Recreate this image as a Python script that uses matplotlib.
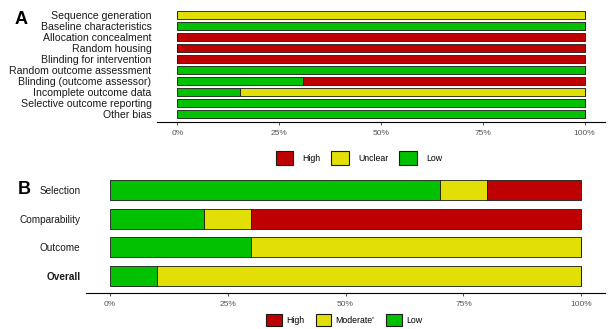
import matplotlib.pyplot as plt
from matplotlib.patches import Patch
import numpy as np

plt.rcParams['font.family'] = ['Liberation Sans', 'DejaVu Sans']

# colours for judgements
col_low = '#02C100'
col_unclear = '#E2DF07'
col_high = '#BF0000'

# Panel A : risk of bias items (percent of studies)
items_a = ['Sequence generation', 'Baseline characteristics', 'Allocation concealment',
           'Random housing', 'Blinding for intervention', 'Random outcome assessment',
           'Blinding (outcome assessor)', 'Incomplete outcome data',
           'Selective outcome reporting', 'Other bias']
low_a = [0, 100, 0, 0, 0, 100, 30.8, 15.4, 100, 100]
unclear_a = [100, 0, 0, 0, 0, 0, 0, 84.6, 0, 0]
high_a = [0, 0, 100, 100, 100, 0, 69.2, 0, 0, 0]

# Panel B : domains
items_b = ['Selection', 'Comparability', 'Outcome', 'Overall']
low_b = [70, 20, 30, 10]
moderate_b = [10, 10, 70, 90]
high_b = [20, 70, 0, 0]

ticks = [0, 25, 50, 75, 100]
tick_labels = ['0%', '25%', '50%', '75%', '100%']

W, H = 609, 329
fig = plt.figure(figsize=(W / 100, H / 100), dpi=100)


def px_axes(x0, y0, x1, y1):
    return fig.add_axes([x0 / W, 1 - y1 / H, (x1 - x0) / W, (y1 - y0) / H])


def stacked(ax, labels, series, colors, height, fs):
    y = np.arange(len(labels))
    left = np.zeros(len(labels))
    for vals, c in zip(series, colors):
        vals = np.array(vals, dtype=float)
        ax.barh(y, vals, left=left, height=height, color=c,
                edgecolor='#1a1a1a', linewidth=0.6)
        left += vals
    ax.set_yticks(y)
    ax.set_yticklabels(labels)
    ax.set_xticks(ticks)
    ax.set_xticklabels(tick_labels)
    ax.set_xlim(-5, 105)
    for s in ['top', 'right', 'left']:
        ax.spines[s].set_visible(False)
    ax.spines['bottom'].set_linewidth(0.8)
    ax.tick_params(axis='y', length=0, pad=4, labelsize=fs, labelcolor='#1a1a1a')
    ax.tick_params(axis='x', length=2.5, width=0.6, color='#333333',
                   labelsize=6, labelcolor='#555555', pad=3)


axA = px_axes(157, 7, 605, 122)
stacked(axA, items_a, [low_a, unclear_a, high_a], [col_low, col_unclear, col_high], 0.72, 7.6)
axA.set_ylim(9 + 8 / 11, -8 / 11)

axB = px_axes(86, 175, 605, 293)
stacked(axB, items_b, [low_b, moderate_b, high_b], [col_low, col_unclear, col_high], 0.7, 7.2)
axB.set_ylim(3 + 17 / 28.7, -15 / 28.7)
axB.get_yticklabels()[-1].set_fontweight('bold')

fig.text(15 / W, 1 - 19 / H, 'A', fontsize=13, fontweight='bold', va='center', ha='left')
fig.text(18 / W, 1 - 189 / H, 'B', fontsize=13, fontweight='bold', va='center', ha='left')


def legend(names, cx, cy, hlen, tpad, cspace):
    handles = [Patch(facecolor=c, edgecolor='#1a1a1a', linewidth=0.8, label=n)
               for c, n in zip([col_high, col_unclear, col_low], names)]
    fig.legend(handles=handles, loc='center', bbox_to_anchor=(cx / W, 1 - cy / H),
               ncol=3, frameon=False, fontsize=6.3, handlelength=hlen, handleheight=hlen,
               handletextpad=tpad, columnspacing=cspace, borderpad=0)


legend(['High', 'Unclear', 'Low'], 359, 158, 2.0, 1.1, 1.2)
legend(['High', "Moderate'", 'Low'], 344, 320, 1.8, 0.5, 1.3)

fig.savefig('out.png', dpi=100)
